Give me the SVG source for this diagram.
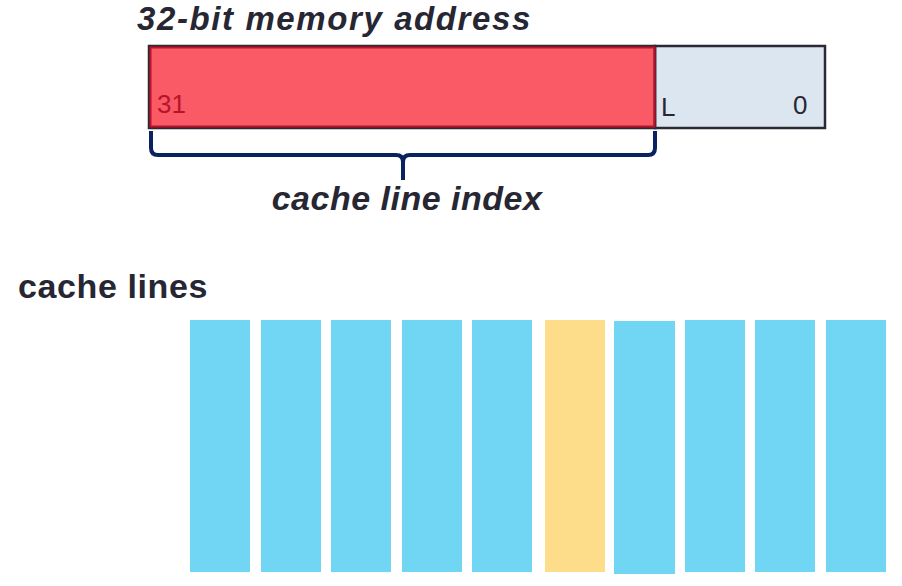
<svg xmlns="http://www.w3.org/2000/svg" width="902" height="586" viewBox="0 0 902 586">
<style>
.t{font-family:"Liberation Sans",Arial,sans-serif;fill:#272733;font-weight:bold}
.it{font-style:italic}
.n{font-family:"Liberation Sans",Arial,sans-serif;font-size:26px}
.line{fill:#70d6f3}
.hit{fill:#fedd8a}
</style>
<rect width="902" height="586" fill="#ffffff"/>
<g id="title"><text class="t it" x="137" y="30" font-size="33" letter-spacing="1.6">32-bit memory address</text></g>
<g id="index-field">
<rect x="150" y="47" width="505" height="80" fill="#f95a66"/>
<text class="n" x="157" y="113" fill="#b8142a">31</text>
</g>
<g id="offset-field">
<rect x="655" y="46" width="170" height="82" fill="#dce6f0" stroke="#2a2a35" stroke-width="2.5"/>
<rect x="149" y="46" width="506" height="82" fill="none" stroke="#2a2a35" stroke-width="2.5"/>
<rect x="150.5" y="47.5" width="504" height="79" fill="none" stroke="#c0102a" stroke-width="2"/>
<text class="n" x="661" y="116" fill="#272733">L</text>
<text class="n" x="793" y="114" fill="#272733">0</text>
</g>
<g id="connectors">
<path d="M151 131 V148 Q151 155 158 155 H396 Q403 155 403 162 V180 M403 162 Q403 155 410 155 H648 Q655 155 655 148 V131" fill="none" stroke="#0b2260" stroke-width="4"/>
</g>
<g id="index-label"><text class="t it" x="407" y="210" font-size="34" text-anchor="middle" letter-spacing="0.5">cache line index</text></g>
<g id="cache-lines-label"><text class="t" x="18" y="298" font-size="34" letter-spacing="0.6">cache lines</text></g>
<g id="cache-lines">
<rect class="line" x="190" y="320" width="60" height="252"/>
<rect class="line" x="261" y="320" width="60" height="252"/>
<rect class="line" x="331" y="320" width="60" height="252"/>
<rect class="line" x="402" y="320" width="60" height="252"/>
<rect class="line" x="472" y="320" width="60" height="252"/>
<rect class="hit" x="545" y="320" width="60" height="252"/>
<rect class="line" x="614" y="321" width="61" height="253"/>
<rect class="line" x="685" y="320" width="60" height="252"/>
<rect class="line" x="755" y="320" width="60" height="252"/>
<rect class="line" x="826" y="320" width="60" height="252"/>
</g>
</svg>
